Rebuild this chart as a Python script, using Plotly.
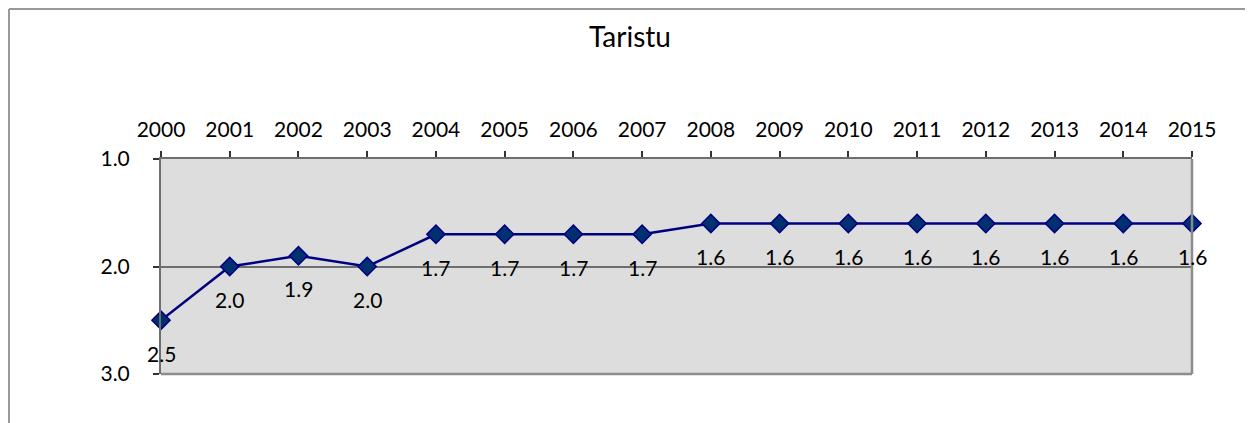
import plotly.graph_objects as go

years = [2000, 2001, 2002, 2003, 2004, 2005, 2006, 2007, 2008, 2009, 2010, 2011, 2012, 2013, 2014, 2015]
values = [2.5, 2.0, 1.9, 2.0, 1.7, 1.7, 1.7, 1.7, 1.6, 1.6, 1.6, 1.6, 1.6, 1.6, 1.6, 1.6]
y_ticks = [1.0, 2.0, 3.0]
title_text = "Taristu"

FONT = "Lato, 'Open Sans', sans-serif"
OFF = 8  # page body margin
W, H = 1253 - OFF, 423 - OFF
L, T = 161 - OFF, 159 - OFF
pw, ph = 1031, 215
R, B = W - L - pw, H - T - ph

def px_x(px):
    return (px - OFF - L) / pw

def px_y(py):
    return (H - B - (py - OFF)) / ph

fig = go.Figure()
fig.add_trace(go.Scatter(
    x=years, y=values, mode="lines+markers",
    line=dict(color="#000080", width=2.5),
    marker=dict(symbol="diamond", size=14, color="#003070",
                line=dict(color="#000080", width=1.5)),
    cliponaxis=False, showlegend=False, hoverinfo="x+y",
))

for x, v in zip(years, values):
    fig.add_annotation(x=x, y=v, text=f"{v:.1f}", showarrow=False,
                       yshift=-33, font=dict(family=FONT, size=21, color="#000000"))

shapes = [
    dict(type="line", xref="paper", yref="paper", x0=1, x1=1, y0=0, y1=1,
         line=dict(color="#8c8c8c", width=2.5)),
    dict(type="line", xref="paper", yref="paper", x0=0, x1=1, y0=0, y1=0,
         line=dict(color="#8c8c8c", width=2.5)),
    dict(type="line", xref="paper", yref="paper", x0=px_x(9), x1=px_x(1260),
         y0=px_y(9), y1=px_y(9), line=dict(color="#999999", width=2)),
    dict(type="line", xref="paper", yref="paper", x0=px_x(9), x1=px_x(9),
         y0=px_y(9), y1=px_y(430), line=dict(color="#999999", width=2)),
]

fig.update_layout(
    width=W, height=H,
    margin=dict(l=L, r=R, t=T, b=B, autoexpand=False),
    paper_bgcolor="white", plot_bgcolor="#dddddd",
    font=dict(family=FONT, size=21, color="#000000"),
    title=dict(text=title_text, x=(630 - OFF) / W, xref="container", xanchor="center",
               y=1 - (37 - OFF) / H, yref="container", yanchor="middle",
               font=dict(family=FONT, size=28, color="#000000")),
    shapes=shapes,
    xaxis=dict(side="top", range=[2000, 2015], tickvals=years,
               ticktext=[str(y) for y in years],
               showgrid=False, zeroline=False,
               showline=True, linecolor="#6e6e6e", linewidth=2,
               ticks="outside", ticklen=6, tickcolor="#333333", tickwidth=1.5,
               ticklabelstandoff=6,
               tickfont=dict(family=FONT, size=21, color="#000000")),
    yaxis=dict(range=[3.0, 1.0], tickvals=y_ticks, tickformat=".1f",
               showgrid=True, gridcolor="#6e6e6e", gridwidth=2,
               zeroline=False,
               showline=True, linecolor="#6e6e6e", linewidth=2,
               ticks="outside", ticklen=6, tickcolor="#333333", tickwidth=1.5,
               ticklabelstandoff=19,
               tickfont=dict(family=FONT, size=21, color="#000000")),
)

fig.write_html("out.html")
